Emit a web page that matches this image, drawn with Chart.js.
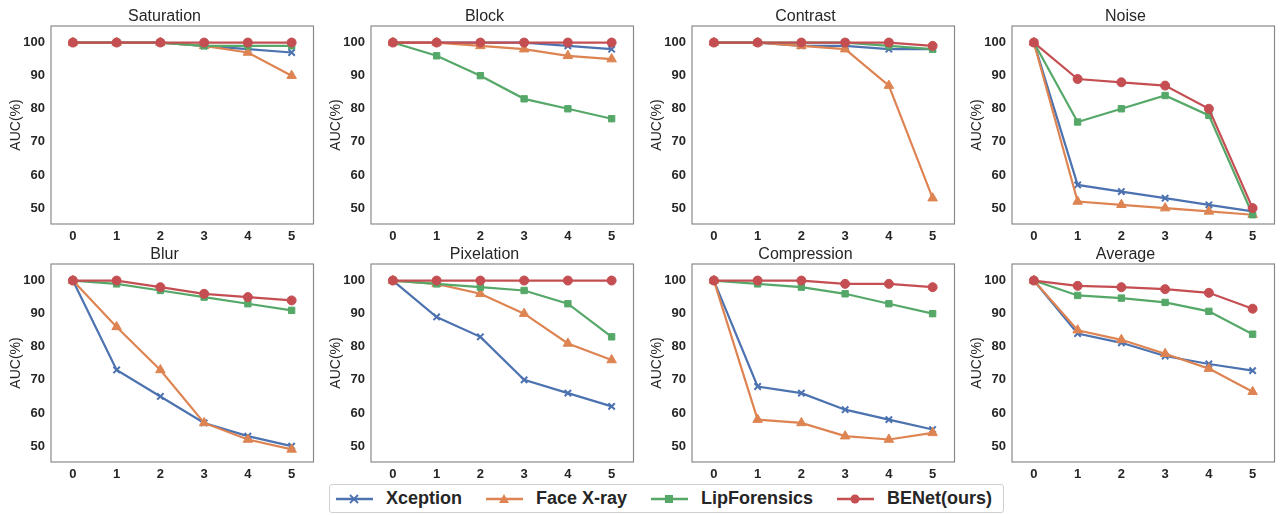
<!DOCTYPE html>
<html>
<head>
<meta charset="utf-8">
<script src="https://cdn.jsdelivr.net/npm/chart.js@4/dist/chart.umd.min.js"></script>
<style>
  body { margin: 0; background: #fff; font-family: "Liberation Sans", Arial, sans-serif; overflow: hidden; }
  #wrap { position: relative; width: 1281px; height: 515px; }
  .cell { position: absolute; width: 320px; height: 245px; }
  #legend {
    position: absolute; left: 329px; top: 484px; width: 675px; height: 29px;
    border: 1px solid #d0d0d0; border-radius: 3px; box-sizing: border-box;
    display: flex; align-items: center; padding-left: 6px;
    font-weight: bold; font-size: 18px; color: #262626; white-space: nowrap;
  }
  .item { display: flex; align-items: center; margin-right: 24px; flex-shrink: 0; }
  .item svg { margin-right: 13px; }
</style>
</head>
<body>
<div id="wrap">
  <div id="legend"></div>
</div>
<script>
const steps = ['0', '1', '2', '3', '4', '5'];
const yTicks = [50, 60, 70, 80, 90, 100];
const methods = ['Xception', 'Face X-ray', 'LipForensics', 'BENet(ours)'];
const colors = ['#4C72B0', '#DD8452', '#55A868', '#C44E52'];
const markers = ['crossRot', 'triangle', 'rect', 'circle'];
const titles = ['Saturation', 'Block', 'Contrast', 'Noise', 'Blur', 'Pixelation', 'Compression', 'Average'];

// one row per method: Xception, Face X-ray, LipForensics, BENet
const saturationAUC = [
  [100, 100, 100, 99, 98, 97],
  [100, 100, 100, 99, 97, 90],
  [100, 100, 100, 99, 99, 99],
  [100, 100, 100, 100, 100, 100]
];
const blockAUC = [
  [100, 100, 100, 100, 99, 98],
  [100, 100, 99, 98, 96, 95],
  [100, 96, 90, 83, 80, 77],
  [100, 100, 100, 100, 100, 100]
];
const contrastAUC = [
  [100, 100, 99, 99, 98, 98],
  [100, 100, 99, 98, 87, 53],
  [100, 100, 100, 100, 99, 98],
  [100, 100, 100, 100, 100, 99]
];
const noiseAUC = [
  [100, 57, 55, 53, 51, 49],
  [100, 52, 51, 50, 49, 48],
  [100, 76, 80, 84, 78, 48],
  [100, 89, 88, 87, 80, 50]
];
const blurAUC = [
  [100, 73, 65, 57, 53, 50],
  [100, 86, 73, 57, 52, 49],
  [100, 99, 97, 95, 93, 91],
  [100, 100, 98, 96, 95, 94]
];
const pixelationAUC = [
  [100, 89, 83, 70, 66, 62],
  [100, 99, 96, 90, 81, 76],
  [100, 99, 98, 97, 93, 83],
  [100, 100, 100, 100, 100, 100]
];
const compressionAUC = [
  [100, 68, 66, 61, 58, 55],
  [100, 58, 57, 53, 52, 54],
  [100, 99, 98, 96, 93, 90],
  [100, 100, 100, 99, 99, 98]
];
const averageAUC = [
  [100, 84, 81.2, 77.2, 74.8, 72.8],
  [100, 85, 82.1, 77.9, 73.4, 66.4],
  [100, 95.5, 94.7, 93.4, 90.7, 83.8],
  [100, 98.4, 98, 97.4, 96.3, 91.5]
];
const allAUC = [saturationAUC, blockAUC, contrastAUC, noiseAUC,
                blurAUC, pixelationAUC, compressionAUC, averageAUC];

const colLeft = [0, 320, 641, 961];
const rowTop = [0, 238];
const markerSize = [4.5, 5.5, 4.5, 4.5];
const FONT = '"Liberation Sans", Arial, sans-serif';

// frame around the plot area
const framePlugin = {
  id: 'frame',
  afterDraw(chart) {
    const a = chart.chartArea;
    const ctx = chart.ctx;
    ctx.save();
    ctx.strokeStyle = '#8a8a8a';
    ctx.lineWidth = 1.2;
    ctx.strokeRect(a.left, a.top, a.right - a.left, a.bottom - a.top);
    ctx.restore();
  }
};

const wrap = document.getElementById('wrap');

titles.forEach((title, i) => {
  const div = document.createElement('div');
  div.className = 'cell';
  div.style.left = colLeft[i % 4] + 'px';
  div.style.top = rowTop[Math.floor(i / 4)] + 'px';
  const canvas = document.createElement('canvas');
  div.appendChild(canvas);
  wrap.appendChild(div);

  new Chart(canvas.getContext('2d'), {
    type: 'line',
    data: {
      labels: steps,
      datasets: methods.map((m, k) => ({
        label: m,
        data: allAUC[i][k],
        borderColor: colors[k],
        backgroundColor: colors[k],
        pointBorderColor: colors[k],
        pointStyle: markers[k],
        pointRadius: markerSize[k],
        pointBorderWidth: k === 0 ? 2 : 1,
        borderWidth: 2.2,
        tension: 0,
        order: 3 - k,
        clip: false
      }))
    },
    options: {
      responsive: true,
      maintainAspectRatio: false,
      animation: false,
      layout: { padding: { left: 8, right: -1, top: 0, bottom: 0 } },
      plugins: {
        legend: { display: false },
        tooltip: { enabled: false },
        title: {
          display: true,
          text: title,
          color: '#262626',
          font: { family: FONT, size: 16, weight: 'normal', lineHeight: 1 },
          padding: { top: 9, bottom: 1 }
        }
      },
      scales: {
        x: {
          type: 'category',
          offset: true,
          grid: { display: false, drawTicks: false },
          border: { display: false },
          ticks: {
            color: '#262626',
            padding: 5,
            font: { family: FONT, size: 13, weight: 'bold' }
          },
          afterFit(scale) { scale.height = 21; }
        },
        y: {
          min: 45.2,
          max: 105,
          grid: { display: false, drawTicks: false },
          border: { display: false },
          afterBuildTicks(scale) { scale.ticks = yTicks.map(v => ({ value: v })); },
          ticks: {
            color: '#262626',
            padding: 6,
            font: { family: FONT, size: 13, weight: 'bold' }
          },
          title: {
            display: true,
            text: 'AUC(%)',
            color: '#262626',
            padding: { top: 0, bottom: 4 },
            font: { family: FONT, size: 14 }
          },
          afterFit(scale) { scale.width = 43; }
        }
      }
    },
    plugins: [framePlugin]
  });
});

// legend
const legend = document.getElementById('legend');
const markerSvg = [
  c => `<path d="M14 3 L22 11 M22 3 L14 11" stroke="${c}" stroke-width="1.8"/>`,
  c => `<path d="M18 2 L23 11 L13 11 Z" fill="${c}"/>`,
  c => `<rect x="14" y="3" width="8" height="8" fill="${c}"/>`,
  c => `<circle cx="18" cy="7" r="4.5" fill="${c}"/>`
];
methods.forEach((m, k) => {
  const item = document.createElement('div');
  item.className = 'item';
  item.innerHTML =
    `<svg width="37" height="14"><line x1="0" y1="7" x2="37" y2="7" stroke="${colors[k]}" stroke-width="2.4"/>` +
    markerSvg[k](colors[k]) + `</svg><span>${m}</span>`;
  legend.appendChild(item);
});
</script>
</body>
</html>
